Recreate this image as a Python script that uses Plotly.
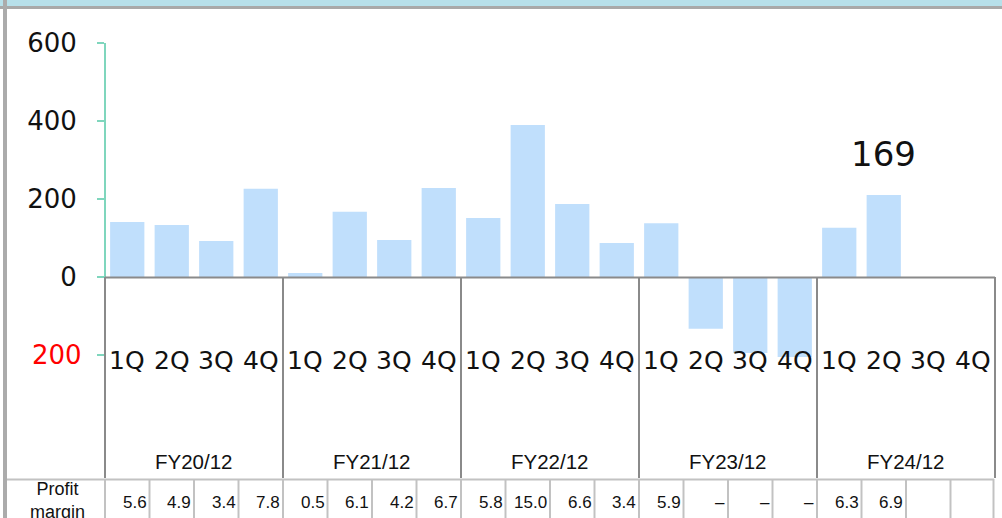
"""Quarterly operating profit with profit margin table (Plotly recreation)."""

import plotly.graph_objects as go

# ---- data -------------------------------------------------------------
fiscal_years = ["FY20/12", "FY21/12", "FY22/12", "FY23/12", "FY24/12"]
quarters = ["1Q", "2Q", "3Q", "4Q"]
profit = [
    141, 133, 92, 226,
    10, 167, 95, 228,
    151, 390, 187, 87,
    138, -133, -195, -205,
    126, 210, None, None,
]
profit_margin = [
    "5.6", "4.9", "3.4", "7.8",
    "0.5", "6.1", "4.2", "6.7",
    "5.8", "15.0", "6.6", "3.4",
    "5.9", "–", "–", "–",
    "6.3", "6.9", "", "",
]
y_tick_vals = [600, 400, 200, 0, -200]
y_tick_text = ["600", "400", "200", "0", ""]
callout_text = "169"
callout_index = 17
margin_label = "Profit<br>margin"

categories = [f"{fy} {q}" for fy in fiscal_years for q in quarters]

# ---- geometry (pixels in the 1002x518 page) ---------------------------
W, H = 1002, 518
PL, PR, PT, PB = 105, 995, 43, 518


def px(x):
    return (x - PL) / (PR - PL)


def py(y):
    return (PB - y) / (PB - PT)


BAR_COLOR = "#c0dffc"
AXIS_GREEN = "#7fd6bd"
GRID_DARK = "#8a8a8a"
GRID_LIGHT = "#c2c2c2"
LABEL_FONT = "DejaVu Sans"
TABLE_FONT = "Liberation Sans, Arial"
INK = "#111111"

fig = go.Figure()
fig.add_trace(
    go.Bar(
        x=categories,
        y=profit,
        marker=dict(color=BAR_COLOR, line=dict(width=0)),
        width=0.77,
        hoverinfo="x+y",
    )
)

shapes = []
# page frame: light blue band and grey rule at top, grey border on the left
shapes.append(dict(type="rect", xref="paper", yref="paper", x0=px(0), x1=px(W), y0=py(0), y1=py(6),
                   fillcolor="#b7e0ea", line=dict(width=0), layer="above"))
shapes.append(dict(type="rect", xref="paper", yref="paper", x0=px(0), x1=px(W), y0=py(6), y1=py(9),
                   fillcolor="#a9a9a9", line=dict(width=0), layer="above"))
shapes.append(dict(type="rect", xref="paper", yref="paper", x0=px(3), x1=px(7), y0=py(0), y1=py(H),
                   fillcolor="#ababab", line=dict(width=0), layer="above"))
# green value axis from 0 to 600
shapes.append(dict(type="line", xref="paper", yref="paper", x0=0, x1=0, y0=py(43), y1=py(277),
                   line=dict(color=AXIS_GREEN, width=2)))
# category table under the bars
shapes.append(dict(type="line", xref="paper", yref="paper", x0=0, x1=1, y0=py(277.5), y1=py(277.5),
                   line=dict(color=GRID_DARK, width=2), layer="above"))
for k in range(len(fiscal_years) + 1):
    xb = k * len(quarters) / len(categories)
    shapes.append(dict(type="line", xref="paper", yref="paper", x0=xb, x1=xb, y0=py(277), y1=py(478),
                       line=dict(color=GRID_DARK, width=2), layer="above"))
# profit margin table
shapes.append(dict(type="line", xref="paper", yref="paper", x0=px(7), x1=px(994), y0=py(479.5), y1=py(479.5),
                   line=dict(color=GRID_LIGHT, width=2), layer="above"))
shapes.append(dict(type="line", xref="paper", yref="paper", x0=0, x1=0, y0=py(479), y1=py(H),
                   line=dict(color=GRID_LIGHT, width=2), layer="above"))
for i in range(len(categories)):
    xb = min((i + 1) / len(categories), px(993.5))
    shapes.append(dict(type="line", xref="paper", yref="paper", x0=xb, x1=xb, y0=py(479), y1=py(H),
                       line=dict(color=GRID_LIGHT, width=2), layer="above"))

annotations = []
for i, cat in enumerate(categories):
    annotations.append(dict(x=cat, y=-213, xref="x", yref="y", text=cat.split(" ")[1], showarrow=False,
                            font=dict(family=LABEL_FONT, size=25, color=INK)))
    annotations.append(dict(x=i + 0.5, y=-577, xref="x", yref="y", text=profit_margin[i], showarrow=False,
                            xanchor="right", xshift=-1, font=dict(family=TABLE_FONT, size=17, color=INK)))
for k, fy in enumerate(fiscal_years):
    annotations.append(dict(x=k * len(quarters) + 1.5, y=-472, xref="x", yref="y", text=fy, showarrow=False,
                            font=dict(family=TABLE_FONT, size=20.5, color=INK)))
annotations.append(dict(x=categories[callout_index], y=315, xref="x", yref="y", text=callout_text,
                        showarrow=False, font=dict(family=LABEL_FONT, size=34, color=INK)))
annotations.append(dict(x=px(84), y=-200, xref="paper", yref="y", text="200", showarrow=False,
                        xanchor="right", font=dict(family=LABEL_FONT, size=26, color="#ff0000")))
annotations.append(dict(x=px(57), y=py(500), xref="paper", yref="paper", text=margin_label, showarrow=False,
                        xanchor="center", yanchor="middle", align="center",
                        font=dict(family=TABLE_FONT, size=18, color=INK)))

fig.update_layout(
    width=W,
    height=H,
    margin=dict(l=PL, r=W - PR, t=PT, b=H - PB, pad=0),
    paper_bgcolor="white",
    plot_bgcolor="white",
    showlegend=False,
    shapes=shapes,
    annotations=annotations,
)
fig.update_xaxes(visible=False, range=[-0.5, len(categories) - 0.5])
fig.update_yaxes(
    range=[-618, 600],
    tickvals=y_tick_vals,
    ticktext=y_tick_text,
    ticks="outside",
    ticklen=7,
    tickwidth=2,
    tickcolor=AXIS_GREEN,
    ticklabelstandoff=15,
    tickfont=dict(family=LABEL_FONT, size=26, color=INK),
    showgrid=False,
    zeroline=False,
    showline=False,
)

# the page body has a default 8px margin; drop it so the figure sits at the window origin
fig.write_html(
    "out.html",
    config={"displayModeBar": False},
    post_script="document.body.style.margin = '0px';",
)
